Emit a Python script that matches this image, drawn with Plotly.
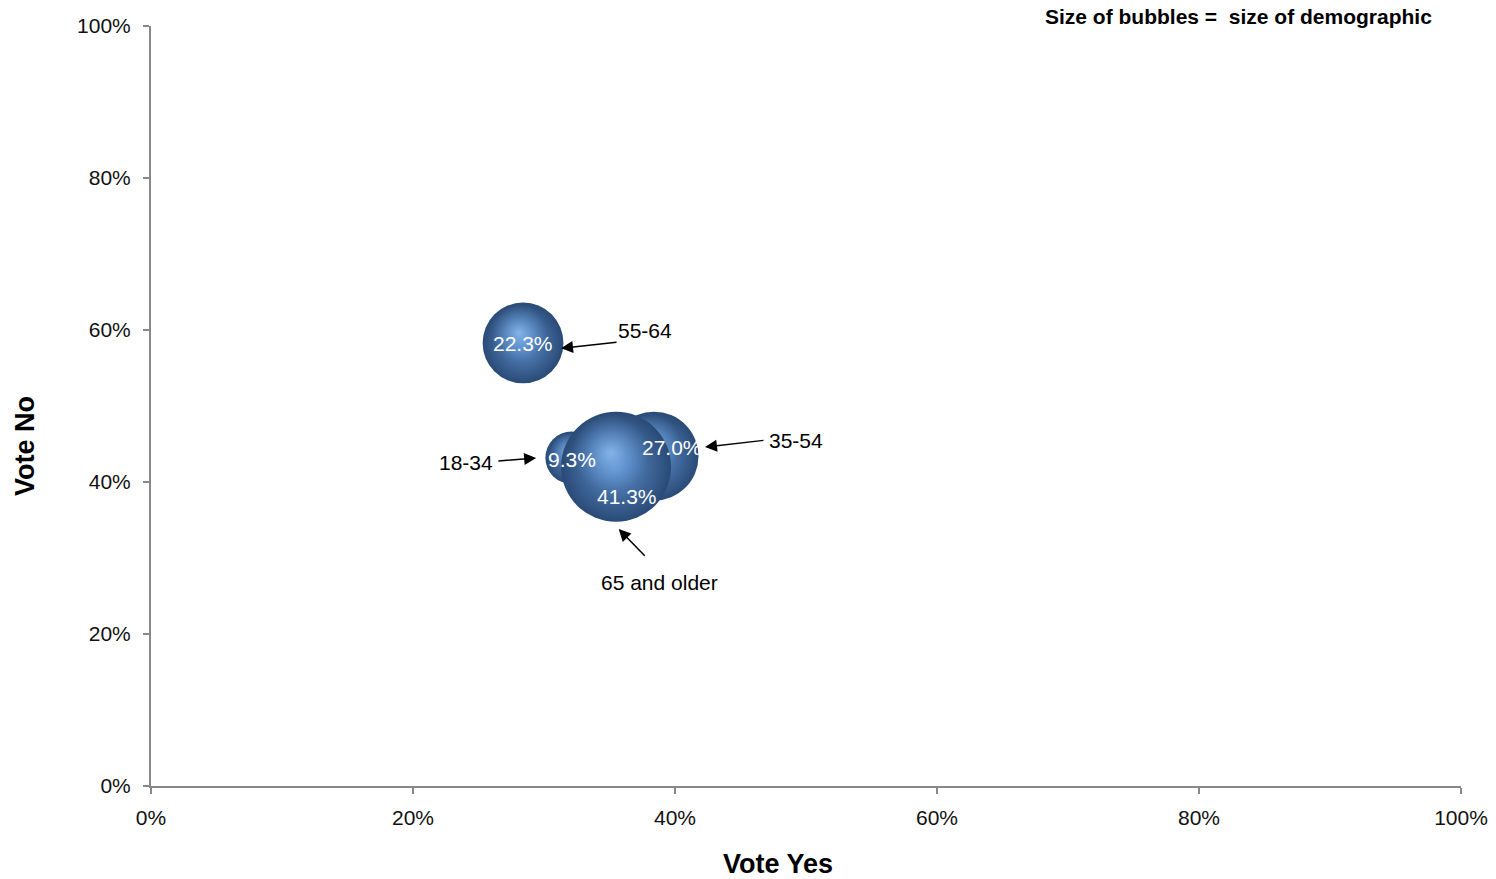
import plotly.graph_objects as go

# Data
groups = ["55-64", "18-34", "35-54", "65 and older"]
share = [22.3, 9.3, 27.0, 41.3]          # size of demographic (%)
vote_yes = [0.284, 0.321, 0.384, 0.355]
vote_no = [0.583, 0.432, 0.434, 0.420]
x_ticks = [0, 0.2, 0.4, 0.6, 0.8, 1.0]
y_ticks = [0, 0.2, 0.4, 0.6, 0.8, 1.0]

FONT = "Liberation Sans, Arial, Helvetica, sans-serif"
W, H = 1496, 879
ML, MR, MT, MB = 151, 35, 26, 93
PW, PH = W - ML - MR, H - MT - MB

max_diam = 110
sizeref = 2.0 * max(share) / (max_diam ** 2)

fig = go.Figure()
for g, s, xv, yv in zip(groups, share, vote_yes, vote_no):
    # base sphere
    fig.add_trace(go.Scatter(
        x=[xv], y=[yv], mode="markers", name=g,
        marker=dict(size=[s], sizemode="area", sizeref=sizeref, opacity=1,
                    color="#2a4a76",
                    gradient=dict(type="radial", color="#5e91cf"),
                    line=dict(width=0)),
        hoverinfo="skip", showlegend=False))
    # specular highlight (upper-left)
    d = max_diam * (s / max(share)) ** 0.5
    r = d / 2
    hx = xv - 0.10 * r / PW
    hy = yv + 0.25 * r / PH
    fig.add_trace(go.Scatter(
        x=[hx], y=[hy], mode="markers",
        marker=dict(size=[1.4 * r], sizemode="diameter", opacity=1,
                    color="rgba(94,145,207,0)",
                    gradient=dict(type="radial", color="rgba(140,190,242,0.85)"),
                    line=dict(width=0)),
        hoverinfo="skip", showlegend=False))

# value labels inside bubbles (offsets as placed in the original)
label_pos = {
    "55-64": (0.284, 0.582),
    "18-34": (0.321, 0.429),
    "35-54": (0.398, 0.446),
    "65 and older": (0.363, 0.381),
}
for g, s in zip(groups, share):
    lx, ly = label_pos[g]
    fig.add_annotation(x=lx, y=ly, text=f"{s:.1f}%", showarrow=False,
                       font=dict(family=FONT, size=21, color="white"))

# callout arrows and group names
callouts = {
    "55-64": dict(tip=(0.313, 0.576), tail=(0.3565, 0.584), text=(0.377, 0.600)),
    "35-54": dict(tip=(0.4229, 0.446), tail=(0.4687, 0.455), text=(0.492, 0.454)),
    "18-34": dict(tip=(0.294, 0.4316), tail=(0.264, 0.4276), text=(0.2405, 0.426)),
    "65 and older": dict(tip=(0.357, 0.338), tail=(0.378, 0.301), text=(0.3885, 0.268)),
}
for g, c in callouts.items():
    fig.add_annotation(x=c["tip"][0], y=c["tip"][1], ax=c["tail"][0], ay=c["tail"][1],
                       axref="x", ayref="y", text="", showarrow=True,
                       arrowhead=2, arrowsize=1.6, arrowwidth=1.5, arrowcolor="black")
    fig.add_annotation(x=c["text"][0], y=c["text"][1], text=g, showarrow=False,
                       font=dict(family=FONT, size=21, color="black"))

fig.add_annotation(xref="paper", yref="paper", x=(1434 - ML) / PW, y=(H - MB - 16) / PH,
                   xanchor="right", yanchor="middle",
                   text="<b>Size of bubbles =  size of demographic</b>", showarrow=False,
                   font=dict(family=FONT, size=21, color="black"))

# axis titles
fig.add_annotation(xref="paper", yref="paper", x=(778 - ML) / PW, y=(H - MB - 864) / PH,
                   xanchor="center", yanchor="middle", text="<b>Vote Yes</b>", showarrow=False,
                   font=dict(family=FONT, size=27, color="black"))
fig.add_annotation(xref="paper", yref="paper", x=(25 - ML) / PW, y=(H - MB - 446) / PH,
                   xanchor="center", yanchor="middle", text="<b>Vote No</b>", showarrow=False,
                   textangle=-90, font=dict(family=FONT, size=27, color="black"))

axis_common = dict(range=[0, 1], tickformat=".0%", showgrid=False, zeroline=False,
                   showline=True, linecolor="#888888", linewidth=2,
                   ticks="outside", ticklen=6, tickwidth=2, tickcolor="#888888",
                   tickfont=dict(family=FONT, size=21, color="#111111"),
                   fixedrange=True, automargin=False)

fig.update_layout(
    width=W, height=H,
    margin=dict(l=ML, r=MR, t=MT, b=MB),
    plot_bgcolor="white", paper_bgcolor="white",
    xaxis=dict(**axis_common, tickvals=x_ticks, ticklabelstandoff=6),
    yaxis=dict(**axis_common, tickvals=y_ticks, ticklabelstandoff=8),
)

fig.write_html("out.html", config={"displayModeBar": False},
               post_script="document.body.style.margin='0';document.body.style.overflow='hidden';")
